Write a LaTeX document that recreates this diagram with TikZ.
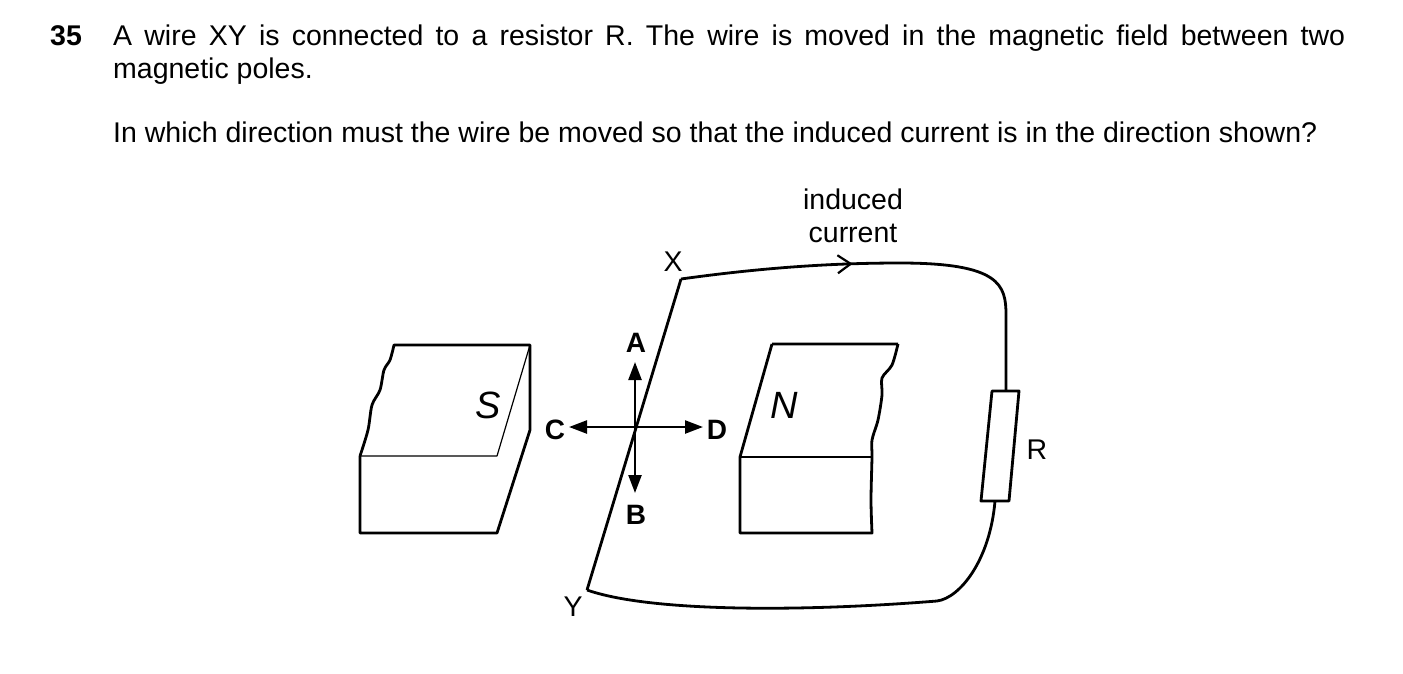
\documentclass[tikz,border=0pt]{standalone}
\usepackage{fontspec}
\setmainfont{Liberation Sans}
\usetikzlibrary{arrows.meta, decorations.markings}

\begin{document}
\begin{tikzpicture}[x=1pt, y=-1pt, line join=round,
		wire/.style={line width=2.8pt},
		face/.style={line width=1.2pt},
		dirarrow/.style={line width=2.4pt, -{Triangle[length=18pt, width=13pt]}},
		txt/.style={font=\fontsize{28.5}{33}\selectfont, inner sep=0pt},
		letter/.style={font=\fontsize{28}{30}\selectfont\bfseries, inner sep=0pt}]
		\useasboundingbox (0,0) rectangle (1403,673);
		
		% question text
		\node[txt, font=\fontsize{28.5}{33}\selectfont\bfseries, anchor=base west] (num) at (50,45) {35};
		\node[txt, anchor=base west, text width=1232pt, align=justify] (q) at (113,45)
			{A wire XY is connected to a resistor R. The wire is moved in the magnetic field between two\linebreak magnetic poles.};
		\node[txt, anchor=base west] (ask) at (113,142) {In which direction must the wire be moved so that the induced current is in the direction shown?};
		
		% S pole
		\draw[wire] (494,345) -- (530,345) -- (530,430) -- (497,533) -- (360,533) -- (360,456)
			plot[smooth] coordinates {(360,456) (368,430) (372,405) (380,390) (384,370) (390,360) (394,345)} -- (494,345);
		\draw[face] (360,456) -- (497,456) -- (530,345);
		\node[font=\fontsize{38}{38}\selectfont\itshape, inner sep=0pt] (S) at (488,405) {S};
		
		% N pole
		\draw[wire] (772,344) -- (898,344) plot[smooth] coordinates {(898,344) (892,365) (882,378) (882,395) (878,420) (872,440) (872,457) (871,500) (872,533)}
			-- (740,533) -- (740,457) -- (772,344);
		\draw[face] (740,457) -- (872,457);
		\node[font=\fontsize{38}{38}\selectfont\itshape, inner sep=0pt] (N) at (784,405) {N};
		
		% directions
		\coordinate (O) at (635,427);
		\coordinate (a) at (635,362);
		\coordinate (b) at (635,493);
		\coordinate (c) at (569,427);
		\coordinate (d) at (703,427);
		\draw[dirarrow] (O) -- (a);
		\draw[dirarrow] (O) -- (b);
		\draw[dirarrow] (O) -- (c);
		\draw[dirarrow] (O) -- (d);
		\node[letter] (A) at (636,343) {A};
		\node[letter] (B) at (636,515) {B};
		\node[letter] (C) at (555,430) {C};
		\node[letter] (D) at (717,430) {D};
		
		% wire XY and circuit
		\coordinate (X) at (681,279);
		\coordinate (Y) at (587,590);
		\coordinate (r1) at (1006,391);
		\coordinate (r2) at (995,501);
		\draw[wire] (X) -- (Y);
		\draw[wire, postaction={decorate}, decoration={markings,
				mark=at position 0.4 with {\arrow[line width=2.2pt]{Straight Barb[length=13pt, width=18pt]}}}]
			(X) .. controls (760,268) and (830,263) .. (900,263)
			.. controls (1000,263) and (1006,285) .. (1006,315) -- (r1);
		\draw[wire] (r2) .. controls (990,560) and (960,598) .. (937,601)
			.. controls (800,612) and (650,612) .. (Y);
		\draw[wire, fill=white] (992,391) -- (1019,391) -- (1009,501) -- (981,501) -- cycle;
		\node[txt] (R) at (1037,450) {R};
		\node[txt] (Xl) at (673,262) {X};
		\node[txt] (Yl) at (573,607) {Y};
		\node[txt, align=center] (cur) at (853,216) {induced\\current};
	\end{tikzpicture}
\end{document}
